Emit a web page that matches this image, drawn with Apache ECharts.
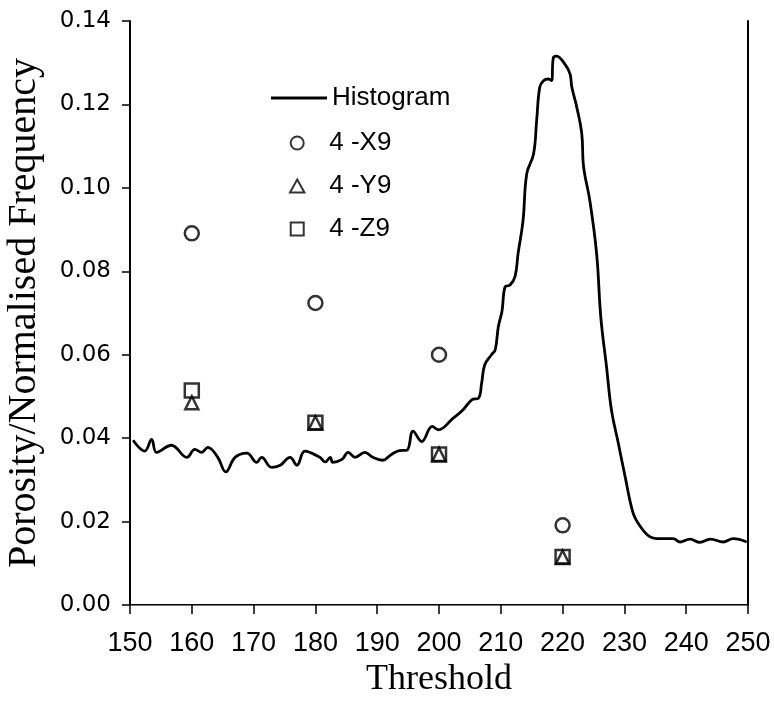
<!DOCTYPE html>
<html>
<head>
<meta charset="utf-8">
<script src="https://cdn.jsdelivr.net/npm/echarts@6/dist/echarts.min.js"></script>
<style>html,body{margin:0;padding:0;background:#fff;}#chart{width:774px;height:710px;}</style>
</head>
<body>
<div id="chart"></div>
<script>
// Histogram curve (threshold, normalised frequency)
const histX = [150.5,152.4,153.5,154.3,156.7,159.2,160.5,161.6,162.6,164.2,165.5,167.0,168.9,170.5,171.3,172.9,174.3,175.9,177.0,178.3,180.7,181.6,182.4,182.8,184.3,185.3,186.4,188.0,189.3,190.9,192.3,193.6,194.8,195.8,197.2,198.9,199.9,202.3,203.9,205.3,206.4,206.9,207.4,208.5,209.1,209.6,210.2,210.7,211.5,212.3,212.8,213.6,214.2,215.3,215.8,216.3,216.9,217.7,218.2,218.5,219.0,220.4,221.2,221.5,222.3,223.1,223.4,224.4,225.5,226.2,227.1,227.9,229.0,230.1,231.4,232.5,234.1,235.8,237.9,239.0,240.6,242.2,243.9,246.0,247.6,249.8];
const histY = [0.0395,0.0369,0.0397,0.0366,0.0383,0.0354,0.0373,0.0366,0.0378,0.0354,0.0319,0.0354,0.0364,0.0342,0.0354,0.0330,0.0335,0.0354,0.0335,0.0369,0.0354,0.0343,0.0354,0.0342,0.0349,0.0366,0.0354,0.0366,0.0354,0.0347,0.0361,0.0370,0.0371,0.0417,0.0392,0.0428,0.0420,0.0448,0.0468,0.0492,0.0496,0.0532,0.0576,0.0600,0.0612,0.0667,0.0705,0.0763,0.0767,0.0787,0.0843,0.0922,0.1034,0.1081,0.1161,0.1241,0.1257,0.1261,0.1257,0.1312,0.1316,0.1296,0.1273,0.1241,0.1193,0.1130,0.1050,0.0970,0.0843,0.0687,0.0572,0.0468,0.0389,0.0309,0.0221,0.0190,0.0164,0.0159,0.0159,0.0151,0.0158,0.0150,0.0158,0.0151,0.0159,0.0151];
// Porosity samples
const thresholds = [160, 180, 200, 220];
const x9 = [0.0891, 0.0724, 0.0600, 0.0191];
const y9 = [0.0485, 0.0437, 0.0361, 0.0115];
const z9 = [0.0514, 0.0437, 0.0361, 0.0115];
const xTicks = {min: 150, max: 250, interval: 10};
const yTicks = {min: 0, max: 0.14, interval: 0.02};

const pair = (xs, ys) => xs.map((x, i) => [x, ys[i]]);
const hollow = {color: 'rgba(0,0,0,0)', borderColor: '#000', borderWidth: 2.5};
const legendText = {fontFamily: 'Liberation Sans', fontSize: 26, color: '#000'};

const chart = echarts.init(document.getElementById('chart'));
chart.setOption({
  animation: false,
  backgroundColor: '#fff',
  grid: {left: 130, right: 26, top: 21, bottom: 105, containLabel: false, outerBoundsMode: 'none'},
  legend: [{
    orient: 'vertical', left: 271, top: 85, padding: 0,
    itemWidth: 56, itemHeight: 3, icon: 'rect',
    textStyle: legendText,
    data: ['Histogram']
  }, {
    orient: 'vertical', left: 289, top: 130, padding: 0,
    itemWidth: 54, itemHeight: 13, itemGap: 17, symbolKeepAspect: true,
    textStyle: legendText,
    itemStyle: {borderWidth: 2, borderColor: '#000'},
    data: [
      {name: '4 -X9', icon: 'circle'},
      {name: '4 -Y9', icon: 'path://M5,0L10,9L0,9Z'},
      {name: '4 -Z9', icon: 'path://M0,0L10,0L10,10L0,10Z'}
    ]
  }],
  xAxis: [{
    type: 'value', min: xTicks.min, max: xTicks.max, interval: xTicks.interval,
    name: 'Threshold', nameLocation: 'middle', nameGap: 44,
    nameTextStyle: {fontFamily: 'Liberation Serif', fontSize: 36, color: '#000'},
    axisLine: {lineStyle: {color: '#000', width: 2}},
    axisTick: {show: true, inside: false, length: 9, lineStyle: {color: '#000', width: 1.5}},
    axisLabel: {fontFamily: 'Liberation Sans', fontSize: 27, color: '#000', margin: 25},
    splitLine: {show: false}
  }, {
    type: 'value', position: 'top', min: xTicks.min, max: xTicks.max,
    axisLine: {show: true, lineStyle: {color: '#777', width: 1}},
    axisTick: {show: false}, axisLabel: {show: false}, splitLine: {show: false}
  }],
  yAxis: [{
    type: 'value', min: yTicks.min, max: yTicks.max, interval: yTicks.interval,
    name: 'Porosity/Normalised Frequency', nameLocation: 'middle', nameGap: 86,
    nameTextStyle: {fontFamily: 'Liberation Serif', fontSize: 40, color: '#000'},
    axisLine: {show: true, lineStyle: {color: '#000', width: 2}},
    axisTick: {show: true, inside: false, length: 8, lineStyle: {color: '#000', width: 1.5}},
    axisLabel: {fontFamily: 'DejaVu Sans', fontSize: 23, color: '#000', margin: 19,
      formatter: v => v.toFixed(2)},
    splitLine: {show: false}
  }, {
    type: 'value', position: 'right', min: yTicks.min, max: yTicks.max,
    axisLine: {show: true, lineStyle: {color: '#000', width: 2}},
    axisTick: {show: false}, axisLabel: {show: false}, splitLine: {show: false}
  }],
  series: [{
    name: 'Histogram', type: 'line', data: pair(histX, histY),
    smooth: 0.4, symbol: 'none',
    lineStyle: {color: '#000', width: 2.8}, itemStyle: {color: '#000'}
  }, {
    name: '4 -X9', type: 'scatter', data: pair(thresholds, x9),
    symbol: 'circle', symbolSize: 14, itemStyle: hollow
  }, {
    name: '4 -Y9', type: 'scatter', data: pair(thresholds, y9),
    symbol: 'triangle', symbolSize: 13, itemStyle: hollow
  }, {
    name: '4 -Z9', type: 'scatter', data: pair(thresholds, z9),
    symbol: 'rect', symbolSize: 14, itemStyle: hollow
  }]
});
</script>
</body>
</html>
